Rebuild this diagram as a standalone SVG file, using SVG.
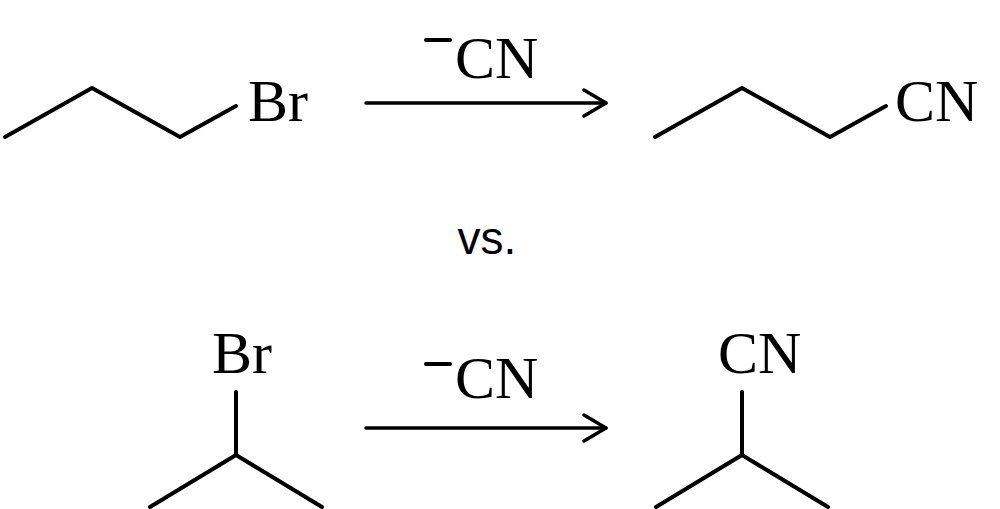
<svg xmlns="http://www.w3.org/2000/svg" width="1000" height="509" viewBox="0 0 1000 509">
<style>
.b{fill:none;stroke:#000;stroke-width:4;stroke-linecap:round;stroke-linejoin:round}
.a{fill:none;stroke:#000;stroke-width:3.5;stroke-linecap:round;stroke-linejoin:round}
.t{font-family:"Liberation Serif",serif;font-size:60px;fill:#000}
.s{font-family:"Liberation Sans",sans-serif;font-size:46px;fill:#000}
</style>
<rect width="1000" height="509" fill="#fff"/>
<polyline class="b" points="5,137 92,88 180,137 236,106"/>
<text class="t" x="248" y="121">Br</text>
<line class="a" x1="366" y1="103" x2="606" y2="103"/>
<polyline class="a" points="584,90 606,103 584,116"/>
<line class="b" x1="426" y1="40" x2="450" y2="40"/>
<text class="t" x="455" y="78">CN</text>
<polyline class="b" points="655,137 742,88 830,137 886,106"/>
<text class="t" x="895" y="121">CN</text>
<text class="s" x="487" y="254" text-anchor="middle">vs.</text>
<text class="t" x="212" y="373">Br</text>
<polyline class="b" points="236,392 236,455"/>
<polyline class="b" points="150,507 236,455 322,507"/>
<line class="a" x1="366" y1="428" x2="606" y2="428"/>
<polyline class="a" points="584,415 606,428 584,441"/>
<line class="b" x1="426" y1="364" x2="450" y2="364"/>
<text class="t" x="455" y="398">CN</text>
<text class="t" x="718" y="373">CN</text>
<polyline class="b" points="742,392 742,455"/>
<polyline class="b" points="656,507 742,455 828,507"/>
</svg>
